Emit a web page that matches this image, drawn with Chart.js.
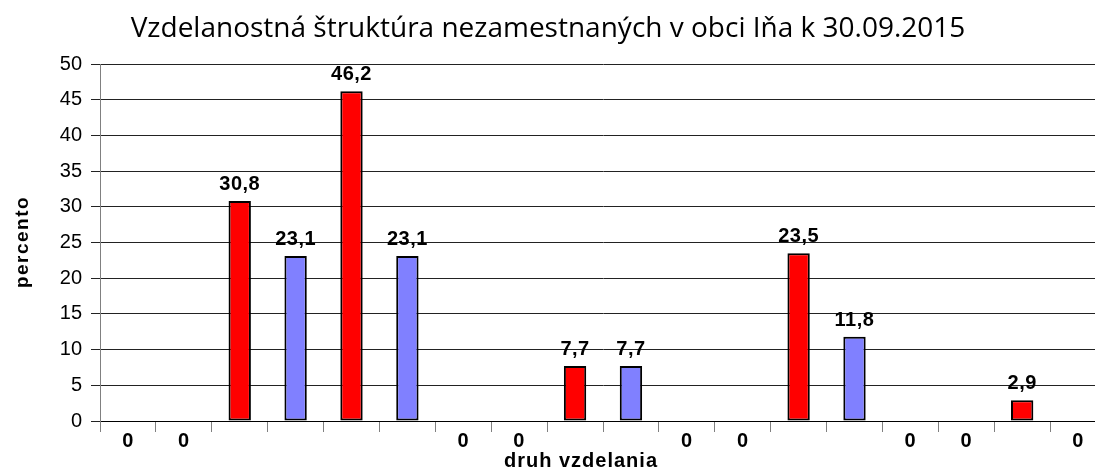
<!DOCTYPE html>
<html>
<head>
<meta charset="utf-8">
<script src="https://cdn.jsdelivr.net/npm/chart.js@4"></script>
<style>
  html, body { margin: 0; padding: 0; background: #fff; overflow: hidden; }
  #wrap { width: 1109px; height: 468px; }
</style>
</head>
<body>
<div id="wrap"><canvas id="eduChart" width="1109" height="468"></canvas></div>
<script>
const title = 'Vzdelanostná štruktúra nezamestnaných v obci Iňa k 30.09.2015';
const yTitle = 'percento';
const xTitle = 'druh vzdelania';

// 18 stĺpcov, striedavo červená / modrá
const categories = ['1', '2', '3', '4', '5', '6', '7', '8', '9', '10', '11', '12', '13', '14', '15', '16', '17', '18'];
const values = [0, 0, 30.8, 23.1, 46.2, 23.1, 0, 0, 7.7, 7.7, 0, 0, 23.5, 11.8, 0, 0, 2.9, 0];
const barColors = categories.map((c, i) => i % 2 === 0 ? '#FF0000' : '#8080FF');
const yTicks = [0, 5, 10, 15, 20, 25, 30, 35, 40, 45, 50];

const fmt = v => String(v).replace('.', ',');

// Popisy a texty
const textPlugin = {
    id: 'texts',
    afterDatasetsDraw(chart) {
        const ctx = chart.ctx;
        const area = chart.chartArea;
        const meta = chart.getDatasetMeta(0);
        ctx.save();
        ctx.fillStyle = '#000';
        ctx.textAlign = 'center';
        ctx.textBaseline = 'alphabetic';
        ctx.font = 'bold 20px "Liberation Sans", Arial, sans-serif';
        ctx.letterSpacing = '0.5px';
        meta.data.forEach((bar, i) => {
            const v = values[i];
            if (v === 0) {
                ctx.fillText(fmt(v), bar.x, area.bottom + 26);
            } else {
                ctx.fillText(fmt(v), bar.x, bar.y - 11);
            }
        });

        ctx.letterSpacing = '1px';
        ctx.font = 'bold 20px "Liberation Sans", Arial, sans-serif';
        ctx.fillText(xTitle, 581, 467);

        ctx.save();
        ctx.translate(28, 242);
        ctx.rotate(-Math.PI / 2);
        ctx.letterSpacing = '1.5px';
        ctx.font = 'bold 19px "Liberation Sans", Arial, sans-serif';
        ctx.fillText(yTitle, 0, 0);
        ctx.restore();

        ctx.letterSpacing = '0px';
        ctx.font = '28px "Open Sans", sans-serif';
        ctx.fillText(title, 548, 37);
        ctx.restore();
    }
};

new Chart(document.getElementById('eduChart'), {
    type: 'bar',
    data: {
        labels: categories,
        datasets: [{
            data: values,
            backgroundColor: barColors,
            borderColor: '#000',
            borderWidth: 2,
            borderSkipped: false,
            categoryPercentage: 1,
            barPercentage: 0.4
        }]
    },
    options: {
        responsive: false,
        animation: false,
        layout: { padding: { top: 64, right: 3, left: 0, bottom: 0 } },
        plugins: {
            legend: { display: false },
            tooltip: { enabled: false },
            title: { display: false }
        },
        scales: {
            x: {
                offset: true,
                afterFit(scale) { scale.height = 47; },
                grid: {
                    offset: true,
                    drawOnChartArea: false,
                    tickLength: 11,
                    color: '#808080'
                },
                border: { color: '#000', width: 1 },
                ticks: { display: false }
            },
            y: {
                min: 0,
                max: 50,
                afterFit(scale) { scale.width = 100; },
                afterBuildTicks(scale) { scale.ticks = yTicks.map(v => ({ value: v })); },
                grid: {
                    color: '#222',
                    tickLength: 9
                },
                border: { color: '#808080', width: 1 },
                ticks: {
                    padding: 9,
                    color: '#000',
                    font: { family: '"Liberation Sans", Arial, sans-serif', size: 20 }
                }
            }
        }
    },
    plugins: [textPlugin]
});
</script>
</body>
</html>
